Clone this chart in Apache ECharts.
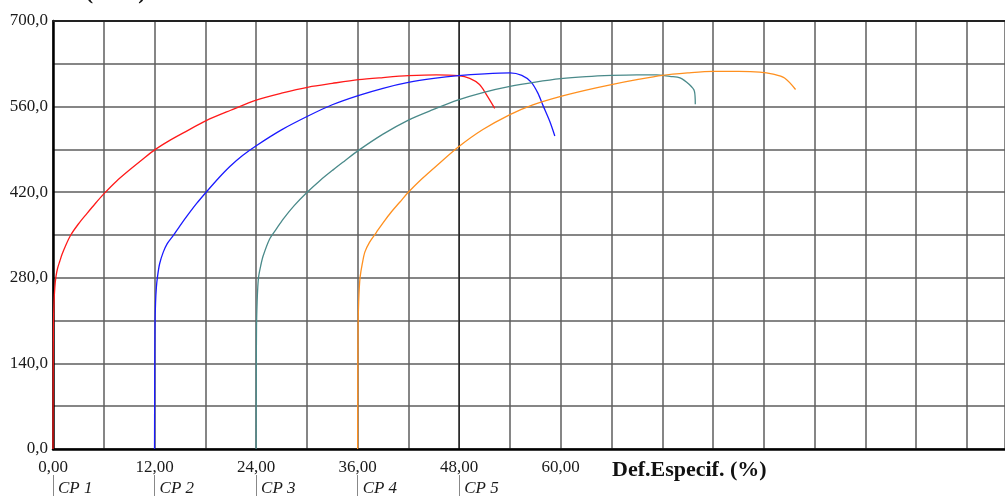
<!DOCTYPE html>
<html>
<head>
<meta charset="utf-8">
<script src="https://cdn.jsdelivr.net/npm/echarts@6/dist/echarts.min.js"></script>
<style>
  html, body { margin: 0; padding: 0; background: #fff; }
  #chart { width: 1005px; height: 497px; }
</style>
</head>
<body>
<div id="chart"></div>
<script>
// Stress-strain curves of the tensile specimens (strain %, stress MPa).
// Each specimen is drawn shifted along the strain axis by its own offset.
const specimenNames = ['CP 1', 'CP 2', 'CP 3', 'CP 4', 'CP 5'];
const specimenOffsets = [0, 12, 24, 36, 48];
const specimenColors = ['#ff1a1a', '#1a1aff', '#4a8a8a', '#ff901f', '#000000'];

const cp1 = [[0,0],[0.02,120],[0.05,200],[0.12,240],[0.22,265],[0.35,282],[0.55,296],[0.8,307],[1.06,318],[1.5,333],[2.1,350],[3.0,368],[4.0,385],[5.0,401.5],[6.06,418],[7.5,438],[9.1,457],[10.6,474],[12.1,490],[13.7,504],[15.4,517],[18.1,537],[21,554],[24.1,571],[27,582],[30.2,592],[33,598],[36.1,604],[39,607.5],[42,610.5],[45.3,612],[47.9,610.5],[49.25,606],[50.4,596],[51.2,580],[52.2,557]];
const cp2 = [[12,0],[12.02,120],[12.05,200],[12.12,240],[12.22,265],[12.35,282],[12.6,303],[13.03,322],[13.5,336],[14.2,349],[15,365],[16,384],[17,402],[18.07,419.5],[19.5,442],[20.9,462],[22.4,480],[24.06,496.5],[27,522],[30.2,545],[33,563],[36.06,578],[39,590],[42,599.5],[45,606],[47.9,610.5],[51,613.5],[54,615],[55.4,611],[56.5,600],[57.3,582],[57.9,562],[58.7,536],[59.3,512]];
const cp3 = [[24,0],[24.02,120],[24.05,200],[24.12,240],[24.2,265],[24.3,282],[24.55,300],[24.84,316],[25.6,343.5],[26.4,360],[27.2,376],[28.5,398],[30,419.5],[31.5,438.5],[33.1,456.5],[34.5,471.5],[36.06,488],[39,515],[42,538],[44.9,555],[47.9,571],[50.8,583],[54,593],[57,600],[60,605.6],[63,609],[66,611],[69,612],[71.3,612],[72.9,609.3],[74.1,607],[75.2,596],[75.8,585],[75.9,564]];
const cp4 = [[36,0],[36.02,120],[36.05,200],[36.12,240],[36.2,265],[36.3,282],[36.55,303],[36.85,322],[37.4,338],[38.2,354],[39,370],[40,388],[41,404],[41.96,419.5],[43.6,442],[45.3,463],[47.9,494],[50.8,522.5],[54,547],[56.7,563],[59.9,576.5],[63,587],[66,596],[69,604],[72,611],[75,615],[78,617.5],[81,617.5],[83.5,616.5],[85.1,613],[86.45,606.7],[87.75,588]];
const cp5 = [[48,0],[48,700]];
const specimenData = [cp1, cp2, cp3, cp4, cp5];

const xTickValues = [0, 12, 24, 36, 48, 60];
const yTickValues = [0, 140, 280, 420, 560, 700];

const serif = '"Liberation Serif", "Times New Roman", serif';
const gridLine = { show: true, lineStyle: { color: '#5e5e5e', width: 1.5 } };

const chart = echarts.init(document.getElementById('chart'), null, { renderer: 'canvas' });

chart.setOption({
  animation: false,
  backgroundColor: '#fff',
  grid: { left: 53, top: 21, right: 0, height: 430 },
  xAxis: [
    {
      type: 'value', min: 0, max: 112.5, interval: 6,
      axisLine: { show: true, onZero: false, lineStyle: { color: '#000', width: 2.5 } },
      axisTick: { show: false },
      splitLine: gridLine,
      axisLabel: {
        customValues: xTickValues,
        formatter: v => v.toFixed(2).replace('.', ','),
        fontFamily: serif, fontSize: 17, color: '#1a1a1a', margin: 10
      }
    },
    {
      // specimen start markers below the strain axis
      type: 'value', min: 0, max: 112.5, position: 'bottom', offset: 26,
      axisLine: { show: true, onZero: false, lineStyle: { color: '#fff', opacity: 0 } },
      splitLine: { show: false },
      axisTick: {
        show: true, customValues: specimenOffsets, length: 21,
        lineStyle: { color: '#888', width: 1, opacity: 1 }
      },
      axisLabel: {
        customValues: specimenOffsets,
        formatter: v => specimenNames[specimenOffsets.indexOf(v)],
        align: 'left', padding: [0, 0, 0, 5], margin: 5,
        fontFamily: serif, fontStyle: 'italic', fontSize: 17, color: '#1a1a1a'
      }
    },
    {
      // top frame line
      type: 'value', min: 0, max: 112.5, position: 'top',
      axisLine: { show: true, onZero: false, lineStyle: { color: '#222', width: 2 } },
      axisTick: { show: false }, axisLabel: { show: false }, splitLine: { show: false }
    }
  ],
  yAxis: {
    type: 'value', min: 0, max: 700, interval: 70,
    axisLine: { show: true, lineStyle: { color: '#000', width: 2.5 } },
    axisTick: { show: false },
    splitLine: gridLine,
    axisLabel: {
      customValues: yTickValues,
      formatter: v => v.toFixed(1).replace('.', ','),
      fontFamily: serif, fontSize: 17, color: '#1a1a1a', margin: 5
    }
  },
  graphic: [
    {
      type: 'text', x: 15, y: -7,
      style: { text: 'Tensão (MPa)', font: 'bold 22px ' + serif, fill: '#111', align: 'left', verticalAlign: 'middle' }
    },
    {
      type: 'text', x: 612, y: 470,
      style: { text: 'Def.Especif. (%)', font: 'bold 22px ' + serif, fill: '#111', align: 'left', verticalAlign: 'middle' }
    }
  ],
  series: specimenData.map((data, i) => ({
    name: specimenNames[i],
    type: 'line',
    xAxisIndex: 0,
    data: data,
    showSymbol: false,
    symbol: 'none',
    smooth: i === 4 ? false : 0.3,
    lineStyle: { color: specimenColors[i], width: i === 4 ? 1 : 1.3 },
    z: i === 4 ? 1 : 3
  }))
});
</script>
</body>
</html>
